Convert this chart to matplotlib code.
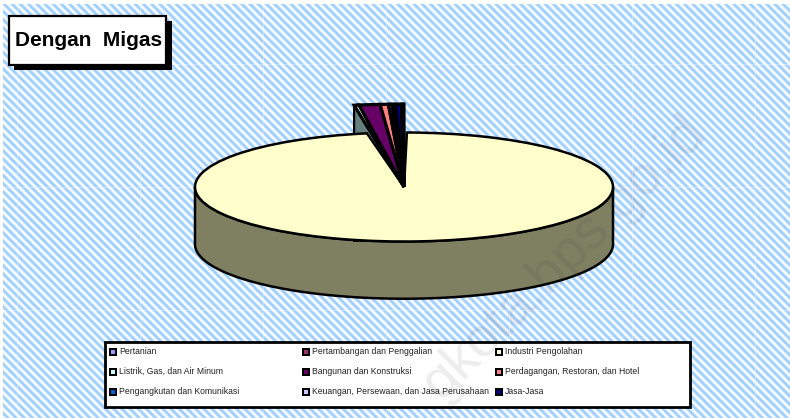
import numpy as np
import matplotlib
matplotlib.use("Agg")
import matplotlib.pyplot as plt
from matplotlib.patches import Rectangle, Polygon

# percent of the pie
sectors = ["Pertanian", "Pertambangan dan Penggalian", "Industri Pengolahan",
           "Listrik, Gas, dan Air Minum", "Bangunan dan Konstruksi",
           "Perdagangan, Restoran, dan Hotel", "Pengangkutan dan Komunikasi",
           "Keuangan, Persewaan, dan Jasa Perusahaan", "Jasa-Jasa"]
shares = [0.08, 0.04, 96.94, 0.25, 1.06, 0.42, 0.19, 0.17, 0.30]
colors = ["#9999ff", "#993366", "#ffffcc", "#ccffff", "#660066",
          "#ff8080", "#0066cc", "#ccccff", "#000080"]
title = "Dengan  Migas"
watermark = "gkota.bps.go.id"

W, H = 790, 418
fig = plt.figure(figsize=(W / 100, H / 100), dpi=100)
plt.rcParams['font.family'] = ['Liberation Sans', 'DejaVu Sans']

############## background, a striped tile of 123 px repeated (faint seams show)
bg = fig.add_axes([0, 0, 1, 1])
bg.set_xlim(0, W)
bg.set_ylim(H, 0)
bg.axis("off")
yy, xx = np.mgrid[0:H, 0:W]
stripes = np.cos(2 * np.pi * (xx - yy) / (123 / 15)) * 0.5 + 0.5
stripes[:, (np.arange(W) - 17) % 123 == 0] *= 0.65
stripes[(np.arange(H) - 64) % 123 == 0, :] *= 0.65
tile = np.ones((H, W, 3))
blue = np.array([0x99, 0xcc, 0xff]) / 255
for i in range(3):
    tile[:, :, i] = 1 - stripes * (1 - blue[i])
tile[:4, :] = 1
tile[:, :3] = 1
bg.imshow(tile, extent=(0, W, H, 0), aspect="auto", interpolation="nearest", zorder=0)

############## pie, squashed axes so the unit circle is the ellipse
cx, cy, rx, ry = 404, 187, 209, 54.5
lim = 2.3
pie_ax = fig.add_axes([(cx - lim * rx) / W, 1 - (cy + lim * ry) / H,
                       2 * lim * rx / W, 2 * lim * ry / H])
pie_ax.patch.set_alpha(0)

depth = 1.05
t = np.linspace(np.pi, 2 * np.pi, 200)
wall = np.r_[np.c_[np.cos(t), np.sin(t) - depth], np.c_[np.cos(t[::-1]), np.sin(t[::-1])]]
pie_ax.add_patch(Polygon(wall, closed=True, fc="#7f7f62", ec="black", lw=1.8, zorder=1))

# big slice and the fan of small slices are drawn apart, the small ones stick up
big = shares[2] / 100
order = [3, 4, 5, 6, 7, 8, 0, 1]
small = [shares[i] / 100 for i in order]
small_colors = [colors[i] for i in order]
fan_total = sum(small) * 360
big_start = 90 - 0.8

# grey inner wall seen behind the fan, between yellow edge and fan edge
big_end = np.deg2rad(360 - 0.8 - big * 360)
inner = np.array([-np.sin(big_end), np.cos(big_end)]) * -1
top_r = 1.52
a = np.deg2rad(fan_total)
outer = top_r * np.array([-np.sin(a), np.cos(a)])
back = Polygon([[0, 0], inner, [outer[0], inner[1]], outer], closed=True,
               fc="#667f7f", ec="black", lw=1.6, zorder=2)
pie_ax.add_patch(back)

w1, _ = pie_ax.pie([big], colors=[colors[2]], startangle=big_start, counterclock=False,
                   normalize=False, radius=1, wedgeprops=dict(ec="black", lw=1.8))
w2, _ = pie_ax.pie(small, colors=small_colors, startangle=90 + fan_total, counterclock=False,
                   normalize=False, radius=top_r, wedgeprops=dict(ec="black", lw=2.3))
for w in w1:
    w.set_zorder(3)
for w in w2:
    w.set_zorder(4)
pie_ax.set_aspect("auto")
pie_ax.set_xlim(-lim, lim)
pie_ax.set_ylim(-lim, lim)
pie_ax.axis("off")

############## overlay: title, legend, watermark on top of all
top = fig.add_axes([0, 0, 1, 1])
top.patch.set_alpha(0)
top.set_xlim(0, W)
top.set_ylim(H, 0)
top.axis("off")

top.add_patch(Rectangle((14, 21), 158, 49, fc="black", ec="none", zorder=2))
top.add_patch(Rectangle((8.5, 15.5), 157, 49, fc="white", ec="black", lw=1.6, zorder=3))
top.text(15, 40, title, fontsize=15, fontweight="bold", va="center", ha="left", zorder=4)

top.add_patch(Rectangle((105, 341.5), 585, 65, fc="white", ec="black", lw=2, zorder=2))
col_x = [109, 302, 495]
row_y = [351.5, 371.5, 391.5]
for i, (name, c) in enumerate(zip(sectors, colors)):
    x, y = col_x[i % 3], row_y[i // 3]
    top.add_patch(Rectangle((x, y - 4), 8, 8, fc="black", ec="none", zorder=3))
    top.add_patch(Rectangle((x + 2, y - 2), 4, 4, fc=c, ec="none", zorder=4))
    top.text(x + 10, y, name, fontsize=6.2, va="center", ha="left", color="#222222", zorder=4)

top.text(565, 258, watermark, rotation=45, rotation_mode="anchor", ha="center", va="center",
         fontsize=40, color="#303030", alpha=0.09, zorder=10)

fig.savefig("out.png", dpi=100)
